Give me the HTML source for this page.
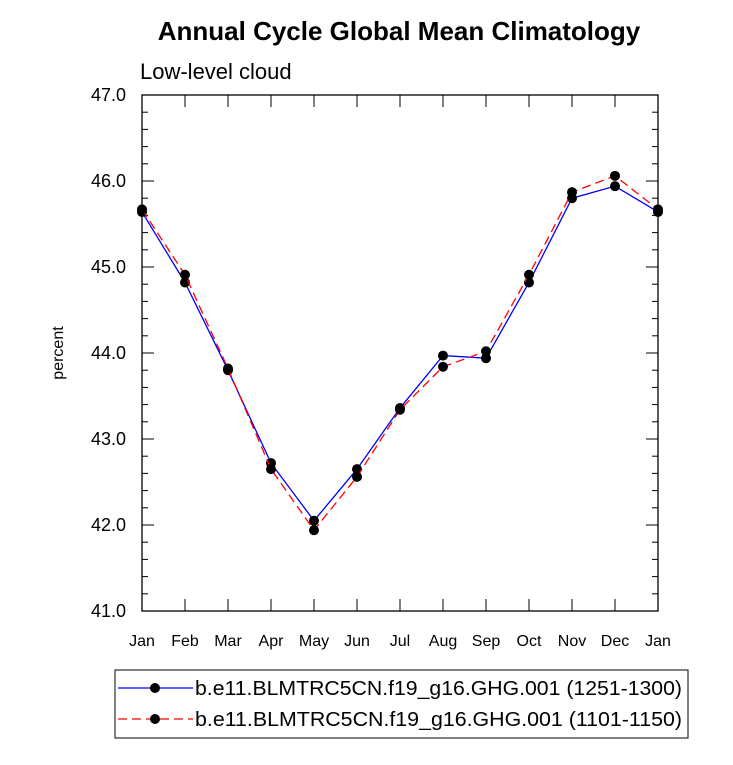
<!DOCTYPE html>
<html><head><meta charset="utf-8"><style>
body{margin:0;background:#fff;font-family:"Liberation Sans",sans-serif}
svg text{font-family:"Liberation Sans",sans-serif}
</style></head><body>
<svg width="733" height="760">
<text x="399" y="40" text-anchor="middle" font-size="26" font-weight="bold">Annual Cycle Global Mean Climatology</text>
<text x="140" y="79" font-size="22">Low-level cloud</text>
<text transform="translate(63,353) rotate(-90)" text-anchor="middle" font-size="16">percent</text>
<g id="axes"></g>
<g id="series"></g>
<g>
<rect x="115" y="670" width="573" height="68" fill="#fff" stroke="#000" stroke-width="1"/>
<g>
<line x1="118" y1="688" x2="193" y2="688" stroke="#00f" stroke-width="1.3"/>
<circle cx="155" cy="688" r="5" fill="#000"/>
<text x="195" y="695" font-size="20.5" textLength="487" lengthAdjust="spacingAndGlyphs">b.e11.BLMTRC5CN.f19_g16.GHG.001 (1251-1300)</text></g>
<g>
<line x1="118" y1="719" x2="193" y2="719" stroke="#f00" stroke-width="1.3" stroke-dasharray="9,5"/>
<circle cx="155" cy="719" r="5" fill="#000"/>
<text x="195" y="726" font-size="20.5" textLength="487" lengthAdjust="spacingAndGlyphs">b.e11.BLMTRC5CN.f19_g16.GHG.001 (1101-1150)</text></g>
</g>
</svg>
<script>
const months=["Jan","Feb","Mar","Apr","May","Jun","Jul","Aug","Sep","Oct","Nov","Dec","Jan"];
const blueValues=[45.64,44.82,43.80,42.72,42.05,42.65,43.36,43.97,43.94,44.82,45.80,45.94,45.64];
const redValues=[45.67,44.91,43.82,42.65,41.94,42.56,43.34,43.84,44.02,44.91,45.87,46.06,45.67];
const yTicks=[41,42,43,44,45,46,47];
const NS="http://www.w3.org/2000/svg";
const L=142,R=658,T=95,B=611,ymin=41,ymax=47;
const xs=i=>L+i*(R-L)/(months.length-1);
const ys=v=>B-(v-ymin)/(ymax-ymin)*(B-T);
function mk(t,a,p){const e=document.createElementNS(NS,t);for(const k in a)e.setAttribute(k,a[k]);p.appendChild(e);return e;}
const ax=document.getElementById('axes');
const frame=mk('rect',{x:L,y:T,width:R-L,height:B-T,fill:'none',stroke:'#000','stroke-width':1.3},ax);


for(let v=ymin;v<=ymax+1e-9;v+=0.2){
 const y=ys(v);const major=Math.abs(v-Math.round(v))<1e-6;const len=major?12:6;
 mk('line',{x1:L,y1:y,x2:L+len,y2:y,stroke:'#000','stroke-width':1},ax);
 mk('line',{x1:R,y1:y,x2:R-len,y2:y,stroke:'#000','stroke-width':1},ax);
}
yTicks.forEach(v=>{const t=mk('text',{x:L-16,y:ys(v)+6,'text-anchor':'end','font-size':18},ax);t.textContent=v.toFixed(1);

});
months.forEach((m,i)=>{const x=xs(i);
 mk('line',{x1:x,y1:B,x2:x,y2:B-12,stroke:'#000','stroke-width':1},ax);
 mk('line',{x1:x,y1:T,x2:x,y2:T+12,stroke:'#000','stroke-width':1},ax);
 const t=mk('text',{x:x,y:B+35,'text-anchor':'middle','font-size':16},ax);t.textContent=m;
 
 });
const sg=document.getElementById('series');
function draw(vals,color,dash,name){
 const g=mk('g',{},sg);
 
 
 const pts=vals.map((v,i)=>xs(i)+','+ys(v)).join(' ');
 const a={points:pts,fill:'none',stroke:color,'stroke-width':1.3};if(dash)a['stroke-dasharray']=dash;
 mk('polyline',a,g);
 vals.forEach((v,i)=>{const c=mk('circle',{cx:xs(i),cy:ys(v),r:5,fill:'#000'},g);
 
 });
}
draw(blueValues,'#00f',null,'series-1251-1300');
draw(redValues,'#f00','9,5','series-1101-1150');
</script>
</body></html>
